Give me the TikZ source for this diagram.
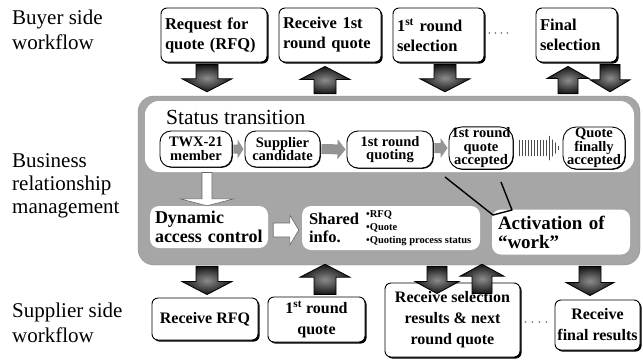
\documentclass[tikz,border=0pt]{standalone}
\usepackage{fontspec}
\setmainfont{Liberation Serif}
\usetikzlibrary{calc,shadows,patterns}

% block arrow from #2 to #3: shaft half width #4, head half width #5, head length #6
\newcommand\blockarrow[6][]{%
  \path[#1] let \p1=(#2), \p2=(#3),
      \n1={veclen(\x2-\x1,\y2-\y1)},
      \n2={(\x2-\x1)/\n1}, \n3={(\y2-\y1)/\n1},
      \n4={\n1-(#6)} in
    ({\x1-(#4)*\n3},{\y1+(#4)*\n2})
    -- ({\x1+\n4*\n2-(#4)*\n3},{\y1+\n4*\n3+(#4)*\n2})
    -- ({\x1+\n4*\n2-(#5)*\n3},{\y1+\n4*\n3+(#5)*\n2})
    -- (\x2,\y2)
    -- ({\x1+\n4*\n2+(#5)*\n3},{\y1+\n4*\n3-(#5)*\n2})
    -- ({\x1+\n4*\n2+(#4)*\n3},{\y1+\n4*\n3-(#4)*\n2})
    -- ({\x1+(#4)*\n3},{\y1-(#4)*\n2})
    -- cycle;}

\begin{document}
\begin{tikzpicture}[x=1pt,y=-1pt,
  lbl/.style={font=\fontsize{21}{25}\selectfont, align=left, inner sep=0pt, anchor=north west},
  wbox/.style={draw=black, line width=0.9pt, fill=white, rounded corners=6pt, inner sep=4pt,
    drop shadow={shadow xshift=1.6pt, shadow yshift=-1.6pt, fill=black, opacity=1},
    font=\bfseries\fontsize{16.5}{20}\selectfont, align=left},
  sbox/.style={wbox, align=center, font=\bfseries\fontsize{16}{21}\selectfont},
  snode/.style={draw=black, line width=0.9pt, fill=white, rounded corners=11pt, inner sep=1pt,
    align=center, font=\bfseries\fontsize{14.5}{13.5}\selectfont,
    drop shadow={shadow xshift=0.8pt, shadow yshift=-0.8pt, fill=black, opacity=1}},
  ibox/.style={fill=white, rounded corners=9pt, inner sep=5pt, align=left,
    font=\bfseries\fontsize{18}{18.5}\selectfont},
  bigarrow/.style={shade, draw=black, line width=0.8pt, inner color=black!45, outer color=black!92},
  whitearrow/.style={fill=white, draw=black!60, line width=0.6pt},
  grayarrow/.style={fill=black!42},
  stripearrow/.style={pattern=vertical lines, pattern color=black!70},
  dot/.style={fill=black!50}
]
\useasboundingbox (0,0) rectangle (643,360);

% row labels
\node[lbl] (lbuy) at (12,10) {Buyer side\\workflow};
\node[lbl, font=\fontsize{21}{23}\selectfont] (lbiz) at (12,153) {Business\\relationship\\management};
\node[lbl] (lsup) at (12,303) {Supplier side\\workflow};

% business relationship management panel
\node[fill=black!35, draw=black!45, rounded corners=16pt, minimum width=502pt, minimum height=169pt, inner sep=0pt] (panel) at (389,180.5) {};
\node[fill=white, rounded corners=14pt, minimum width=489pt, minimum height=71pt, inner sep=0pt] (stbox) at (389.5,136.5) {};
\node[anchor=base west, inner sep=0pt, font=\fontsize{21.5}{24}\selectfont] (sttitle) at (166,124) {Status transition};

% status nodes
\node[snode, minimum width=72pt, minimum height=36pt] (twx) at (196,149) {TWX-21\\member};
\node[snode, minimum width=75pt, minimum height=36pt] (sup) at (282.5,149) {Supplier\\candidate};
\node[snode, minimum width=86pt, minimum height=37pt] (qt) at (390,149.5) {1st round\\quoting};
\node[snode, minimum width=64pt, minimum height=42pt, rounded corners=13pt] (acc) at (481,148) {1st round\\quote\\accepted};
\node[snode, minimum width=62pt, minimum height=42pt, rounded corners=13pt] (fin) at (594,148) {Quote\\finally\\accepted};

\blockarrow[grayarrow]{$(twx.east)+(1,0)$}{$(sup.west)+(-1,0)$}{4.5}{9.5}{6}
\blockarrow[grayarrow]{$(sup.east)+(1,0)$}{$(qt.west)+(-1,0)$}{5}{10}{8}
\blockarrow[grayarrow]{$(qt.east)+(1,-1.5)$}{$(qt.east-|acc.west)+(-1,-1.5)$}{5}{10}{7}
\blockarrow[stripearrow]{$(acc.east)+(4,0)$}{$(fin.west)+(-2,0)$}{8}{13}{12}

% functions
\node[ibox, minimum width=118pt, minimum height=42pt, text width=108pt] (dyn) at (209,227) {Dynamic\\access control};
\node[ibox, minimum width=178pt, minimum height=44pt] (shr) at (391,228) {};
\node[anchor=west, inner sep=0pt, align=left, font=\bfseries\fontsize{16.5}{18}\selectfont] (shrt) at ($(shr.west)+(7,0)$) {Shared\\info.};
\node[anchor=west, inner sep=0pt, align=left, font=\bfseries\fontsize{10.5}{13}\selectfont] (shrl) at (366,228) {•RFQ\\•Quote\\•Quoting process status};
\node[ibox, minimum width=138pt, minimum height=45pt, text width=126pt, font=\bfseries\fontsize{19}{19}\selectfont] (act) at (561,232) {Activation of\\“work”};

\blockarrow[whitearrow]{$(twx.south-|dyn.north)+(-2,5)$}{$(dyn.north)+(-2,0)$}{5}{27}{7}
\blockarrow[whitearrow]{$(dyn.east)+(5,3)$}{$(dyn.east-|shr.west)+(-3,3)$}{7}{15}{9}
\draw[line width=1.4pt, line join=round] (445,177) -- (493,215) -- (512,210) -- (501,182);

% buyer side workflow
\node[wbox, text width=98pt, minimum height=54pt] (rfq) at (214,35) {Request for\\quote (RFQ)};
\node[wbox, text width=94pt, minimum height=54pt] (rec1) at (330,35) {Receive 1st\\round quote};
\node[wbox, text width=83pt, minimum height=54pt] (sel1) at (438.5,35) {1\textsuperscript{st} round\\selection};
\node[wbox, text width=73pt, minimum height=54pt] (fsel) at (576.5,35) {Final\\selection};
\foreach \i in {0,...,3} \fill[dot] ($(sel1.east)+(5+6*\i,-2)$) circle (1pt);

\blockarrow[bigarrow]{$(rfq.south)+(-7,2)$}{$(rfq.south|-panel.north)+(-7,-4)$}{11}{25}{13}
\blockarrow[bigarrow]{$(rec1.south|-panel.north)+(-5,-2)$}{$(rec1.south)+(-5,4)$}{11}{25}{13}
\blockarrow[bigarrow]{$(sel1.south)+(6.5,2)$}{$(sel1.south|-panel.north)+(6.5,-4)$}{11}{25}{13}
\blockarrow[bigarrow]{$(fsel.south|-panel.north)+(-8.5,-2)$}{$(fsel.south)+(-8.5,4)$}{10}{21}{12}
\blockarrow[bigarrow]{$(fsel.south)+(33.5,2)$}{$(fsel.south|-panel.north)+(33.5,-4)$}{10}{20}{12}

% supplier side workflow
\node[sbox, minimum width=106pt, minimum height=42pt] (rrfq) at (205,319) {Receive RFQ};
\node[sbox, minimum width=97pt, minimum height=45pt] (q1) at (316.5,319.5) {1\textsuperscript{st} round\\quote};
\node[sbox, minimum width=135pt, minimum height=74pt] (rsel) at (452.5,320) {Receive selection\\results \& next\\round quote};
\node[sbox, minimum width=85pt, minimum height=50pt, inner sep=2pt] (rfin) at (597.5,325) {Receive\\final results};
\foreach \i in {0,...,3} \fill[dot] ($(rsel.east)+(5+7*\i,2)$) circle (1pt);

\blockarrow[bigarrow]{$(panel.south-|rrfq.north)+(2,1)$}{$(rrfq.north)+(2,-3)$}{11}{25}{13}
\blockarrow[bigarrow]{$(q1.north)+(8.5,-2)$}{$(panel.south-|q1.north)+(8.5,-1)$}{11}{25}{13}
\blockarrow[bigarrow]{$(panel.south-|rsel.north)+(-15.5,1)$}{$(rsel.north)+(-15.5,11)$}{10}{22}{12}
\blockarrow[bigarrow]{$(rsel.north)+(29.5,11)$}{$(panel.south-|rsel.north)+(29.5,-1)$}{10}{22}{12}
\blockarrow[bigarrow]{$(panel.south-|rfin.north)+(-7.5,1)$}{$(rfin.north)+(-7.5,-4)$}{11}{24}{13}
\end{tikzpicture}
\end{document}
